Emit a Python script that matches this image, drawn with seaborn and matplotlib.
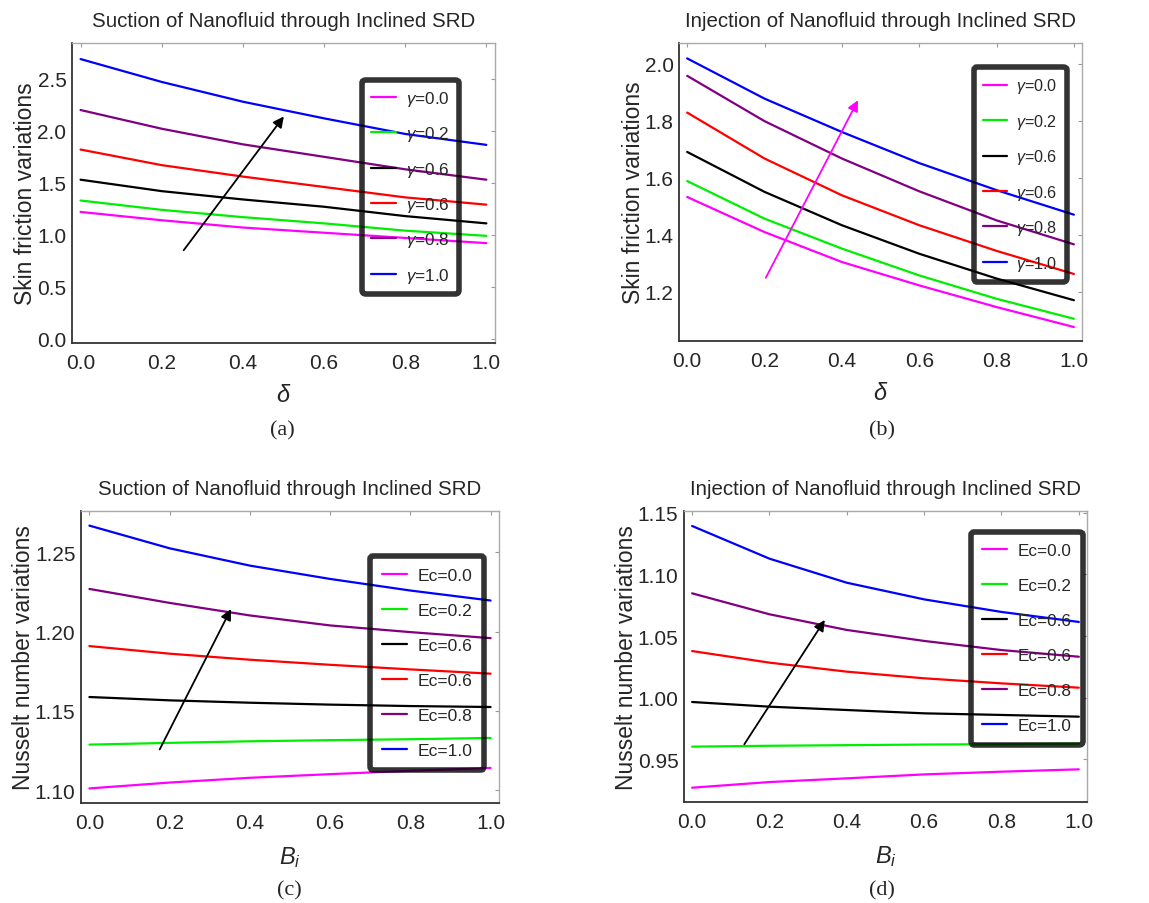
import numpy as np
import pandas as pd
import matplotlib
matplotlib.use("Agg")
import matplotlib.pyplot as plt
import seaborn as sns

# -----------------------------
# Data
# -----------------------------

x_vals = [0.0, 0.2, 0.4, 0.6, 0.8, 1.0]

gamma_labels = [r"$\gamma$=0.0", r"$\gamma$=0.2", r"$\gamma$=0.6", r"$\gamma$=0.6", r"$\gamma$=0.8", r"$\gamma$=1.0"]
ec_labels = ["Ec=0.0", "Ec=0.2", "Ec=0.6", "Ec=0.6", "Ec=0.8", "Ec=1.0"]

line_colors = ["#ff00ff", "#00ee00", "#000000", "#ff0000", "#800080", "#0000ff"]

# (a) skin friction, suction
sf_suction = [
    [1.22, 1.14, 1.07, 1.02, 0.97, 0.92],
    [1.33, 1.24, 1.17, 1.11, 1.04, 0.99],
    [1.53, 1.42, 1.34, 1.27, 1.18, 1.11],
    [1.82, 1.67, 1.56, 1.46, 1.36, 1.29],
    [2.20, 2.02, 1.87, 1.75, 1.63, 1.53],
    [2.69, 2.47, 2.28, 2.12, 1.97, 1.865],
]

# (b) skin friction, injection
sf_injection = [
    [1.532, 1.409, 1.304, 1.222, 1.146, 1.076],
    [1.588, 1.456, 1.351, 1.257, 1.175, 1.105],
    [1.690, 1.550, 1.433, 1.333, 1.246, 1.170],
    [1.828, 1.667, 1.538, 1.433, 1.343, 1.262],
    [1.957, 1.798, 1.667, 1.552, 1.450, 1.366],
    [2.018, 1.877, 1.760, 1.651, 1.556, 1.470],
]

# (c) Nusselt number, suction
nu_suction = [
    [1.1012, 1.1049, 1.1079, 1.1102, 1.1123, 1.1141],
    [1.1288, 1.1299, 1.1309, 1.1316, 1.1322, 1.1330],
    [1.1588, 1.1567, 1.1552, 1.1540, 1.1531, 1.1525],
    [1.1909, 1.1861, 1.1823, 1.1791, 1.1762, 1.1735],
    [1.2269, 1.2181, 1.2102, 1.2039, 1.1997, 1.1959],
    [1.2668, 1.2525, 1.2416, 1.2332, 1.2259, 1.2196],
]

# (d) Nusselt number, injection
nu_injection = [
    [0.9270, 0.9316, 0.9346, 0.9378, 0.9400, 0.9419],
    [0.9603, 0.9610, 0.9615, 0.9620, 0.9623, 0.9627],
    [0.9965, 0.9927, 0.9900, 0.9873, 0.9860, 0.9846],
    [1.0378, 1.0284, 1.0211, 1.0157, 1.0116, 1.0081],
    [1.0846, 1.0676, 1.0549, 1.0460, 1.0386, 1.0332],
    [1.1392, 1.1127, 1.0932, 1.0797, 1.0695, 1.0614],
]

# arrows: (tail, head) in data coords
arrow_a = [(0.25, 0.83), (0.505, 2.16)]
arrow_b = [(0.20, 1.24), (0.445, 1.88)]
arrow_c = [(0.172, 1.1242), (0.356, 1.2158)]
arrow_d = [(0.131, 0.9603), (0.347, 1.0649)]


def to_long(series):
    rows = []
    for i, ys in enumerate(series):
        for xv, yv in zip(x_vals, ys):
            rows.append({"x": xv, "y": yv, "curve": "c%d" % i})
    return pd.DataFrame(rows)


# -----------------------------
# Style
# -----------------------------

sns.set_style("white")
plt.rcParams["font.family"] = ["Liberation Sans", "DejaVu Sans"]
plt.rcParams["mathtext.fontset"] = "custom"
plt.rcParams["mathtext.it"] = "Liberation Sans:italic"
plt.rcParams["mathtext.rm"] = "Liberation Sans"

fig = plt.figure(figsize=(11.49, 9.04), dpi=100)

panels = [
    dict(rect=[0.0627, 0.6195, 0.368, 0.332], data=sf_suction, labels=gamma_labels,
         title="Suction of Nanofluid through Inclined SRD", ylabel="Skin friction variations",
         xlabel=r"$\delta$", ylim=(-0.04, 2.846), yticks=[0.0, 0.5, 1.0, 1.5, 2.0, 2.5], yfmt="%.1f",
         arrow=arrow_a, acolor="black", leg=(0.686, 0.877), legfs=12.3, legls=0.96, legbp=0.53,
         cap="(a)", capxy=(0.246, 0.523)),
    dict(rect=[0.591, 0.6217, 0.3507, 0.3296], data=sf_injection, labels=gamma_labels,
         title="Injection of Nanofluid through Inclined SRD", ylabel="Skin friction variations",
         xlabel=r"$\delta$", ylim=(1.027, 2.072), yticks=[1.2, 1.4, 1.6, 1.8, 2.0], yfmt="%.1f",
         arrow=arrow_b, acolor="#ff00ff", leg=(0.732, 0.919), legfs=11.6, legls=1.02, legbp=0.57,
         cap="(b)", capxy=(0.768, 0.523)),
    dict(rect=[0.0705, 0.1106, 0.3638, 0.323], data=nu_suction, labels=ec_labels,
         title="Suction of Nanofluid through Inclined SRD", ylabel="Nusselt number variations",
         xlabel=r"$B_i$", ylim=(1.092, 1.276), yticks=[1.10, 1.15, 1.20, 1.25], yfmt="%.2f",
         arrow=arrow_c, acolor="black", leg=(0.691, 0.846), legfs=12.6, legls=1.13, legbp=0.67,
         cap="(c)", capxy=(0.252, 0.015)),
    dict(rect=[0.5953, 0.1117, 0.3507, 0.322], data=nu_injection, labels=ec_labels,
         title="Injection of Nanofluid through Inclined SRD", ylabel="Nusselt number variations",
         xlabel=r"$B_i$", ylim=(0.9154, 1.1514), yticks=[0.95, 1.00, 1.05, 1.10, 1.15], yfmt="%.2f",
         arrow=arrow_d, acolor="black", leg=(0.712, 0.928), legfs=12.3, legls=1.17, legbp=0.67,
         cap="(d)", capxy=(0.768, 0.015)),
]

for p in panels:
    ax = fig.add_axes(p["rect"])
    df = to_long(p["data"])
    sns.lineplot(data=df, x="x", y="y", hue="curve", palette=line_colors,
                 linewidth=1.6, ax=ax, legend=True)

    ax.set_xlim(-0.021, 1.021)
    ax.set_ylim(*p["ylim"])
    ax.set_xticks(x_vals)
    ax.set_xticklabels(["%.1f" % t for t in x_vals])
    ax.set_yticks(p["yticks"])
    ax.set_yticklabels([p["yfmt"] % t for t in p["yticks"]])
    ax.tick_params(axis="both", labelsize=15, direction="in", length=3, width=0.8,
                   color="#999999", top=True, right=True)
    ax.tick_params(axis="x", pad=7)
    ax.tick_params(axis="y", pad=4)

    for side in ["left", "bottom"]:
        ax.spines[side].set_color("#333333")
        ax.spines[side].set_linewidth(1.3)
    for side in ["top", "right"]:
        ax.spines[side].set_color("#aaaaaa")
        ax.spines[side].set_linewidth(1.0)

    ax.set_title(p["title"], fontsize=14.8, pad=12)
    ax.set_ylabel(p["ylabel"], fontsize=16.5, labelpad=0)
    ax.set_xlabel(p["xlabel"], fontsize=17, labelpad=9)

    tail, head = p["arrow"]
    ax.annotate("", xy=head, xytext=tail,
                arrowprops=dict(arrowstyle="-|>", color=p["acolor"], lw=1.3,
                                mutation_scale=16))

    handles, _ = ax.get_legend_handles_labels()
    leg = ax.legend(handles, p["labels"], loc="upper left", bbox_to_anchor=p["leg"],
                    fontsize=p["legfs"], handlelength=1.45, handletextpad=0.6,
                    labelspacing=p["legls"], borderaxespad=0.0, borderpad=p["legbp"],
                    frameon=True, fancybox=True)
    frame = leg.get_frame()
    frame.set_facecolor("none")
    frame.set_edgecolor("black")
    frame.set_linewidth(4)
    for h in leg.get_lines():
        h.set_linewidth(1.6)

    fig.text(p["capxy"][0], p["capxy"][1], p["cap"], fontsize=16,
             family=["Liberation Serif", "DejaVu Serif"], ha="center", va="center")

fig.savefig("out.png", dpi=100)
